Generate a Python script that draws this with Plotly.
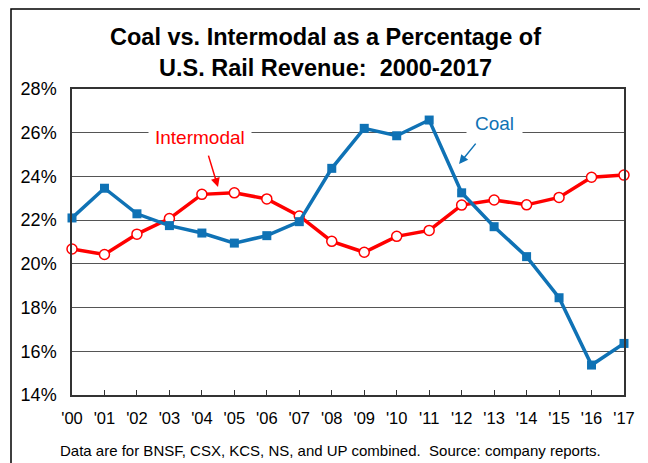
import plotly.graph_objects as go

years = ["'00", "'01", "'02", "'03", "'04", "'05", "'06", "'07", "'08",
         "'09", "'10", "'11", "'12", "'13", "'14", "'15", "'16", "'17"]
coal = [22.1, 23.46, 22.29, 21.75, 21.41, 20.95, 21.29, 21.93, 24.37,
        26.2, 25.86, 26.58, 23.25, 21.7, 20.33, 18.45, 15.37, 16.36]
intermodal = [20.68, 20.43, 21.36, 22.07, 23.18, 23.25, 22.97, 22.19, 21.03,
              20.53, 21.26, 21.53, 22.69, 22.92, 22.7, 23.04, 23.96, 24.06]
y_ticks = [14, 16, 18, 20, 22, 24, 26, 28]

x = list(range(len(years)))
FONT = "Liberation Sans, Arial, sans-serif"
BLUE = "#0F72B5"
RED = "#FF0000"

fig = go.Figure()
fig.add_trace(go.Scatter(
    x=x, y=intermodal, mode="lines+markers", name="Intermodal",
    line=dict(color=RED, width=3.5),
    marker=dict(symbol="circle", size=10, color="white",
                line=dict(color=RED, width=1.5)),
    cliponaxis=False))
fig.add_trace(go.Scatter(
    x=x, y=coal, mode="lines+markers", name="Coal",
    line=dict(color=BLUE, width=3.5),
    marker=dict(symbol="square", size=9, color=BLUE),
    cliponaxis=False))

annotations = [
    dict(text="<b>Coal vs. Intermodal as a Percentage of<br>U.S. Rail Revenue:  2000-2017</b>",
         xref="paper", yref="paper", x=0.46, y=1.119, showarrow=False,
         font=dict(family=FONT, size=23.5, color="black"), align="center",
         xanchor="center", yanchor="middle"),
    dict(text="Data are for BNSF, CSX, KCS, NS, and UP combined.  Source: company reports.",
         xref="paper", yref="paper", x=0.469, y=-0.18, showarrow=False,
         font=dict(family=FONT, size=15, color="black"),
         xanchor="center", yanchor="middle"),
    dict(text="Intermodal", x=3.94, y=25.8, showarrow=False,
         font=dict(family=FONT, size=19, color=RED), bgcolor="white",
         borderpad=6, xanchor="center", yanchor="middle"),
    dict(text="Coal", x=13.0, y=26.44, showarrow=False,
         font=dict(family=FONT, size=19, color=BLUE), bgcolor="white",
         borderpad=8, xanchor="center", yanchor="middle"),
    dict(text="", x=4.496, y=23.515, ax=4.188, ay=25.02,
         xref="x", yref="y", axref="x", ayref="y",
         showarrow=True, arrowhead=2, arrowsize=1.2, arrowwidth=1.5, arrowcolor=RED),
    dict(text="", x=11.92, y=24.57, ax=12.47, ay=25.57,
         xref="x", yref="y", axref="x", ayref="y",
         showarrow=True, arrowhead=2, arrowsize=1.2, arrowwidth=1.5, arrowcolor=BLUE),
]

# page has an 8px body margin, so the figure is sized/offset to compensate
fig.update_layout(
    width=640, height=455,
    margin=dict(l=64, r=24, t=81, b=68),
    paper_bgcolor="white", plot_bgcolor="white",
    showlegend=False,
    font=dict(family=FONT, color="black"),
    annotations=annotations,
    shapes=[dict(type="rect", xref="paper", yref="paper",
                 x0=(3 - 64) / 552, x1=1.2, y0=-0.4, y1=(387 - 1) / 306,
                 line=dict(color="black", width=1.5), layer="below")],
)
fig.update_xaxes(
    range=[0, 17], tickmode="array", tickvals=x, ticktext=years,
    showgrid=False, zeroline=False,
    showline=True, linecolor="#333", linewidth=1.5, mirror=True,
    ticks="inside", ticklen=5, tickcolor="#333", ticklabelstandoff=7,
    tickfont=dict(family=FONT, size=16.5, color="black"))
fig.update_yaxes(
    range=[14, 28], tickmode="array", tickvals=y_ticks,
    ticktext=[f"{v}%" for v in y_ticks],
    showgrid=True, gridcolor="#555", gridwidth=1, zeroline=False,
    showline=True, linecolor="#333", linewidth=1.5, mirror=True,
    ticks="", ticklabelstandoff=10,
    tickfont=dict(family=FONT, size=18, color="black"))

fig.write_html("out.html")
